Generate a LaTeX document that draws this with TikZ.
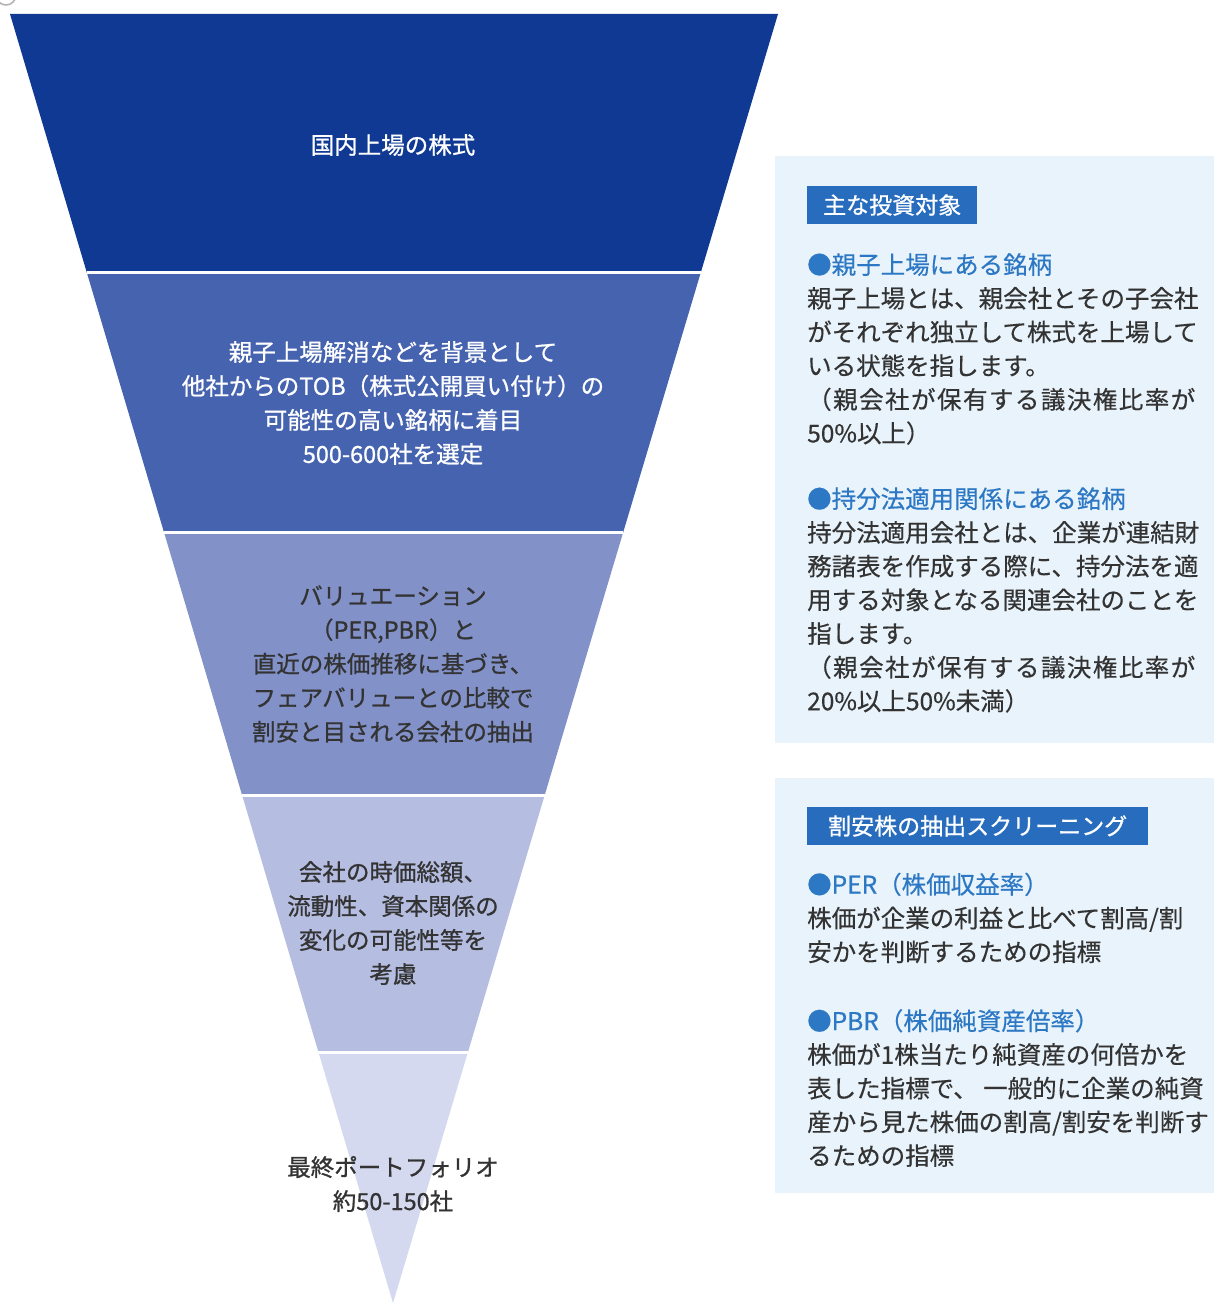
\documentclass[tikz,border=0pt]{standalone}
\usepackage{fontspec}
\newfontfamily\cjk[FakeBold=0.4]{Noto Sans CJK JP}
\newfontfamily\cjkm[FakeBold=0.9]{Noto Sans CJK JP}
\usetikzlibrary{calc}
\definecolor{bandA}{RGB}{16,57,148}
\definecolor{bandB}{RGB}{70,99,175}
\definecolor{bandC}{RGB}{130,146,201}
\definecolor{bandD}{RGB}{181,189,225}
\definecolor{bandE}{RGB}{213,217,240}
\definecolor{panelbg}{RGB}{232,243,251}
\definecolor{hdrblue}{RGB}{40,108,190}
\definecolor{headblue}{RGB}{44,120,196}
\definecolor{bodygray}{RGB}{51,51,51}
\begin{document}
\begin{tikzpicture}[x=1pt, y=-1pt,
  funneltxt/.style={font=\cjkm\fontsize{23.5}{34}\selectfont, align=center, inner sep=0},
  hdrbox/.style={fill=hdrblue, text=white, font=\cjkm\fontsize{23}{23}\selectfont, minimum height=38, inner sep=0, anchor=west},
  itemtxt/.style={font=\cjk\fontsize{24.5}{33.7}\selectfont, text=bodygray, align=left, inner sep=0, anchor=west}]
\useasboundingbox[fill=white] (0,0) rectangle (1214,1303);
\draw[gray!60, line width=1.5] (6,-5) circle (10);
% funnel
\coordinate (tl) at (10,14);
\coordinate (tr) at (778,14);
\coordinate (tip) at (393,1303);
\foreach \ta/\tb/\col in {0/0.2002/bandA, 0.2002/0.4026/bandB, 0.4026/0.6059/bandC, 0.6059/0.8053/bandD, 0.8053/1/bandE}
  \fill[\col] ($(tl)!\ta!(tip)$) -- ($(tr)!\ta!(tip)$) -- ($(tr)!\tb!(tip)$) -- ($(tl)!\tb!(tip)$) -- cycle;
\foreach \t in {0.2002, 0.4026, 0.6059, 0.8053}
  \draw[white, line width=3] ($(tl)!\t!(tip)$) -- ($(tr)!\t!(tip)$);

\node[funneltxt, text=white] (stepA) at (393,145){国内上場の株式};
\node[funneltxt, text=white] (stepB) at (393,403){親子上場解消などを背景として\\他社からのTOB（株式公開買い付け）の\\可能性の高い銘柄に着目\\500-600社を選定};
\node[funneltxt, text=bodygray] (stepC) at (393,664){バリュエーション\\（PER,PBR）と\\直近の株価推移に基づき、\\フェアバリューとの比較で\\割安と目される会社の抽出};
\node[funneltxt, text=bodygray] (stepD) at (393,923){会社の時価総額、\\流動性、資本関係の\\変化の可能性等を\\考慮};
\node[funneltxt, text=bodygray] (stepE) at (393,1184){最終ポートフォリオ\\約50-150社};

% right panels
\fill[panelbg] (775,156) rectangle (1214,743);
\fill[panelbg] (775,778) rectangle (1214,1193);

\node[hdrbox, minimum width=170] (hdrTarget) at (807,205){主な投資対象};
\node[itemtxt] (itemParent) at (807,349){\textcolor{headblue}{●親子上場にある銘柄}\\
親子上場とは、親会社とその子会社\\
がそれぞれ独立して株式を上場して\\
いる状態を指します。\\
{\addfontfeature{LetterSpace=6}（親会社が保有する議決権比率が}\\
50\%以上）};
\node[itemtxt] (itemEquity) at (807,600){\textcolor{headblue}{●持分法適用関係にある銘柄}\\
持分法適用会社とは、企業が連結財\\
務諸表を作成する際に、持分法を適\\
用する対象となる関連会社のことを\\
指します。\\
{\addfontfeature{LetterSpace=6}（親会社が保有する議決権比率が}\\
20\%以上50\%未満）};

\node[hdrbox, minimum width=341] (hdrScreen) at (807,826){割安株の抽出スクリーニング};
\node[itemtxt] (itemPER) at (807,918){\textcolor{headblue}{●PER（株価収益率）}\\
株価が企業の利益と比べて割高/割\\
安かを判断するための指標};
\node[itemtxt] (itemPBR) at (807,1088){\textcolor{headblue}{●PBR（株価純資産倍率）}\\
株価が1株当たり純資産の何倍かを\\
表した指標で、 一般的に企業の純資\\
産から見た株価の割高/割安を判断す\\
るための指標};

\end{tikzpicture}
\end{document}
